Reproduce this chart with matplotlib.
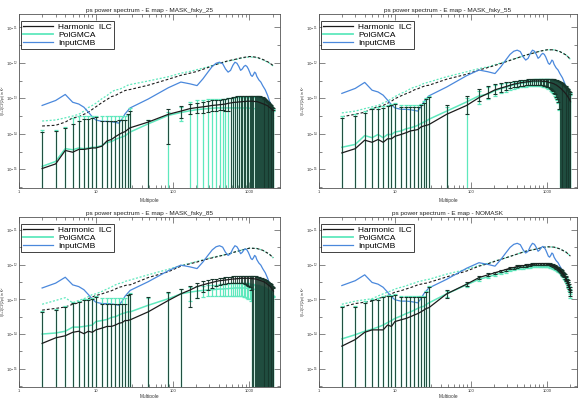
import numpy as np
import matplotlib
matplotlib.use("Agg")
import matplotlib.pyplot as plt
from matplotlib.lines import Line2D
from matplotlib.ticker import FixedLocator, NullFormatter

plt.rcParams['font.family'] = ['Liberation Sans', 'DejaVu Sans']

# ---- data (all spectra in log10 of l(l+1)Cl/2pi [K^2]) ----
ell = [2, 3, 4, 5, 6, 7, 8, 9, 10, 12, 14, 16, 18, 20, 22, 24, 26, 28] + list(range(48, 2049, 40))

dash_ell = [2, 3, 4, 5, 6, 7, 8, 9, 10, 12, 14, 16, 18, 20, 22, 24, 26, 28,
            48, 88, 128, 168, 208, 288, 408, 528, 648, 808, 1008, 1248, 1488, 1808, 2048]

cmb_ell = [2, 3, 4, 5, 6, 7, 8, 9, 10, 12, 14, 16, 18, 20, 22, 24, 26, 28] + list(range(48, 1249, 40)) + \
          [1328, 1408, 1488, 1608, 1728, 1848, 1968, 2048]
# full sky input, each masked panel sits lower by its sky fraction
cmb_full = [-12.60, -12.46, -12.29, -12.51, -12.56, -12.65, -12.79, -12.92, -13.01, -13.05, -13.05, -13.06,
            -13.08, -13.10, -12.98, -12.84, -12.75, -12.67,
            -12.42, -12.10, -11.94, -11.99, -12.04, -11.85, -11.66, -11.50, -11.41, -11.38, -11.42, -11.57,
            -11.66, -11.61, -11.47, -11.38, -11.41, -11.50, -11.61, -11.57, -11.50, -11.47, -11.50, -11.57,
            -11.66, -11.75, -11.78, -11.73, -11.66, -11.69, -11.78,
            -11.88, -11.94, -12.04, -12.16, -12.32, -12.51, -12.63, -12.70]
cmb_shift = [-0.60, -0.26, -0.07, 0.0]

titles = ['ps power spectrum - E map - MASK_fsky_25', 'ps power spectrum - E map - MASK_fsky_55',
          'ps power spectrum - E map - MASK_fsky_85', 'ps power spectrum - E map - NOMASK']

# MASK_fsky_25
ilc_25 = [-14.98, -14.85, -14.47, -14.52, -14.44, -14.44, -14.42, -14.40, -14.40, -14.35, -14.20, -14.16, -14.08, -14.02, -13.97, -13.94, -13.88, -13.83,
          -13.67, -13.45, -13.36, -13.29, -13.26, -13.24, -13.22, -13.20, -13.19, -13.18, -13.17, -13.16, -13.14, -13.13, -13.12, -13.11, -13.11,
          -13.10, -13.10, -13.09, -13.09, -13.09, -13.08, -13.08, -13.08, -13.08, -13.08, -13.08, -13.09, -13.09, -13.09, -13.10, -13.11, -13.12,
          -13.13, -13.14, -13.15, -13.16, -13.17, -13.18, -13.19, -13.20, -13.21, -13.23, -13.25, -13.26, -13.28, -13.30, -13.31, -13.33, -13.35]
ilc_25_top = [-13.95, -13.92, -13.83, -13.71, -13.64, -13.59, -13.57, -13.55, -13.52, -13.64, -13.64, -13.64, -13.63, -13.62, -13.61, -13.60, -13.45, -13.35,
              -13.62, -13.30, -13.22, -13.15, -13.12, -13.10, -13.08, -13.06, -13.05, -13.04, -13.03, -13.02, -13.00, -12.99, -12.97, -12.95, -12.93,
              -12.92, -12.92, -12.92, -12.92, -12.92, -12.92, -12.92, -12.92, -12.92, -12.92, -12.92, -12.92, -12.92, -12.92, -12.93, -12.93, -12.94,
              -12.95, -12.96, -12.97, -12.99, -13.01, -13.03, -13.05, -13.07, -13.09, -13.11, -13.13, -13.16, -13.19, -13.22, -13.25, -13.28, -13.32]
ilc_25_bot = [-16] * 18 + [-16, -14.30, -13.55, -13.45, -13.42, -13.40, -13.38, -13.36, -13.35, -13.34, -13.34, -13.35, -13.36] + [-16] * 38
gmca_25 = [-14.92, -14.78, -14.42, -14.45, -14.40, -14.42, -14.40, -14.38, -14.38, -14.33, -14.24, -14.22, -14.16, -14.12, -14.09, -14.06, -14.00, -13.95,
           -13.72, -13.48, -13.40, -13.35, -13.32, -13.30, -13.29, -13.28, -13.27, -13.27, -13.27, -13.27, -13.27, -13.27, -13.27, -13.27, -13.27,
           -13.27, -13.27, -13.27, -13.27, -13.27, -13.27, -13.27, -13.28, -13.28, -13.28, -13.29, -13.29, -13.30, -13.30, -13.31, -13.32, -13.33,
           -13.34, -13.35, -13.36, -13.37, -13.38, -13.39, -13.40, -13.41, -13.42, -13.44, -13.46, -13.47, -13.49, -13.51, -13.52, -13.54, -13.56]
gmca_25_top = [-13.90, -13.88, -13.80, -13.55, -13.50, -13.50, -13.50, -13.50, -13.50, -13.50, -13.50, -13.50, -13.50, -13.50, -13.50, -13.50, -13.48, -13.26,
               -13.60, -13.38, -13.25, -13.10, -13.05, -13.04, -13.03, -13.03, -13.03, -13.03, -13.02, -13.01, -13.00, -12.99, -12.98, -12.97, -12.96,
               -12.95, -12.95, -12.95, -12.95, -12.95, -12.95, -12.95, -12.95, -12.95, -12.95, -12.95, -12.95, -12.95, -12.95, -12.96, -12.96, -12.97,
               -12.98, -12.99, -13.00, -13.02, -13.04, -13.06, -13.08, -13.10, -13.12, -13.14, -13.16, -13.19, -13.22, -13.25, -13.28, -13.31, -13.35]
gmca_25_bot = [-16] * 18 + [-16, -16, -13.65] + [-16] * 48
dilc_25 = [-13.78, -13.76, -13.67, -13.55, -13.52, -13.45, -13.39, -13.31, -13.24, -13.12, -13.03, -12.95, -12.92, -12.86, -12.82, -12.78, -12.76, -12.75,
           -12.63, -12.46, -12.35, -12.29, -12.24, -12.13, -12.01, -11.94, -11.90, -11.85, -11.82, -11.84, -11.90, -11.99, -12.08]
dgmca_25 = [-13.64, -13.61, -13.55, -13.50, -13.45, -13.36, -13.26, -13.20, -13.14, -13.01, -12.92, -12.82, -12.76, -12.75, -12.71, -12.67, -12.63, -12.61,
            -12.51, -12.39, -12.29, -12.24, -12.19, -12.11, -12.01, -11.95, -11.91, -11.86, -11.83, -11.85, -11.91, -12.00, -12.09]

# MASK_fsky_55
ilc_55 = [-14.54, -14.42, -14.18, -14.24, -14.16, -14.24, -14.14, -14.14, -14.07, -14.02, -13.97, -13.92, -13.90, -13.88, -13.81, -13.78, -13.76, -13.74,
          -13.45, -13.20, -12.98, -12.86, -12.76, -12.71, -12.67, -12.63, -12.60, -12.58, -12.56, -12.55, -12.54, -12.53, -12.52, -12.51, -12.51,
          -12.51, -12.51, -12.51, -12.51, -12.52, -12.52, -12.52, -12.53, -12.54, -12.55, -12.56, -12.57, -12.58, -12.59, -12.61, -12.62, -12.64,
          -12.66, -12.68, -12.70, -12.72, -12.74, -12.77, -12.79, -12.81, -12.84, -12.86, -12.89, -12.92, -12.95, -12.98, -13.01, -13.05, -13.09]
ilc_55_top = [-13.55, -13.50, -13.41, -13.31, -13.29, -13.26, -13.22, -13.20, -13.17, -13.24, -13.24, -13.24, -13.24, -13.24, -13.20, -13.12, -13.03, -12.97,
              -13.20, -12.93, -12.73, -12.66, -12.60, -12.57, -12.55, -12.53, -12.51, -12.50, -12.49, -12.48, -12.47, -12.46, -12.45, -12.45, -12.44,
              -12.44, -12.44, -12.44, -12.44, -12.44, -12.44, -12.44, -12.44, -12.44, -12.44, -12.45, -12.45, -12.46, -12.46, -12.47, -12.48, -12.49,
              -12.50, -12.51, -12.53, -12.54, -12.56, -12.58, -12.60, -12.62, -12.64, -12.66, -12.68, -12.71, -12.73, -12.76, -12.79, -12.82, -12.89]
ilc_55_bot = [-16] * 18 + [-16, -13.45, -13.08, -12.98, -12.88, -12.82, -12.77, -12.72, -12.69, -12.67, -12.65, -12.64, -12.63, -12.62, -12.61,
                           -12.61, -12.61, -12.61, -12.61, -12.62, -12.62, -12.63, -12.64, -12.65, -12.67, -12.69, -12.71, -12.74, -12.77, -12.80,
                           -12.84, -12.89, -12.95, -13.02, -13.10, -13.30] + [-16] * 15
gmca_55 = [-14.38, -14.30, -14.05, -14.11, -14.02, -14.11, -14.02, -14.02, -13.95, -13.92, -13.86, -13.83, -13.80, -13.76, -13.71, -13.67, -13.64, -13.59,
           -13.36, -13.10, -12.93, -12.88, -12.78, -12.73, -12.69, -12.65, -12.62, -12.60, -12.58, -12.57, -12.56, -12.55, -12.54, -12.53, -12.53,
           -12.53, -12.53, -12.53, -12.53, -12.54, -12.54, -12.54, -12.55, -12.56, -12.57, -12.58, -12.59, -12.60, -12.61, -12.63, -12.64, -12.66,
           -12.68, -12.70, -12.72, -12.74, -12.76, -12.79, -12.81, -12.83, -12.86, -12.88, -12.91, -12.94, -12.97, -13.00, -13.03, -13.07, -13.11]
gmca_55_top = [-13.50, -13.45, -13.36, -13.27, -13.25, -13.22, -13.18, -13.16, -13.13, -13.20, -13.20, -13.20, -13.20, -13.20, -13.16, -13.08, -13.00, -12.94,
               -13.25, -13.00, -12.78, -12.68, -12.62, -12.59, -12.57, -12.55, -12.53, -12.52, -12.51, -12.50, -12.49, -12.48, -12.47, -12.47, -12.46,
               -12.46, -12.46, -12.46, -12.46, -12.46, -12.46, -12.46, -12.46, -12.46, -12.46, -12.47, -12.47, -12.48, -12.48, -12.49, -12.50, -12.51,
               -12.52, -12.53, -12.55, -12.56, -12.58, -12.60, -12.62, -12.64, -12.66, -12.68, -12.70, -12.73, -12.75, -12.78, -12.81, -12.84, -12.91]
gmca_55_bot = [-16] * 18 + [-16, -16, -13.15, -13.02, -12.92, -12.86, -12.81, -12.76, -12.73, -12.71, -12.69, -12.68, -12.67, -12.66, -12.65,
                            -12.65, -12.65, -12.65, -12.65, -12.66, -12.66, -12.67, -12.68, -12.69, -12.71, -12.73, -12.75, -12.78, -12.81, -12.84,
                            -12.88, -12.93, -12.99, -13.06, -13.14, -13.34] + [-16] * 15
dilc_55 = [-13.52, -13.45, -13.39, -13.29, -13.24, -13.20, -13.14, -13.08, -13.01, -12.93, -12.87, -12.82, -12.76, -12.73, -12.69, -12.66, -12.64, -12.63,
           -12.46, -12.32, -12.20, -12.13, -12.07, -11.97, -11.86, -11.78, -11.73, -11.67, -11.63, -11.63, -11.68, -11.78, -11.90]
dgmca_55 = [-13.41, -13.36, -13.29, -13.24, -13.20, -13.13, -13.08, -13.01, -12.95, -12.86, -12.80, -12.73, -12.68, -12.66, -12.62, -12.58, -12.56, -12.54,
            -12.39, -12.25, -12.16, -12.11, -12.05, -11.96, -11.86, -11.78, -11.73, -11.67, -11.63, -11.63, -11.68, -11.78, -11.90]

# MASK_fsky_85
ilc_85 = [-14.27, -14.11, -14.05, -13.95, -13.92, -13.99, -13.92, -13.95, -13.88, -13.83, -13.78, -13.78, -13.74, -13.69, -13.67, -13.61, -13.61, -13.59,
          -13.36, -13.03, -12.84, -12.73, -12.63, -12.58, -12.54, -12.51, -12.48, -12.46, -12.45, -12.44, -12.43, -12.42, -12.41, -12.41, -12.40,
          -12.40, -12.39, -12.39, -12.39, -12.39, -12.39, -12.39, -12.39, -12.40, -12.40, -12.40, -12.41, -12.41, -12.42, -12.43, -12.44, -12.45,
          -12.46, -12.47, -12.48, -12.49, -12.50, -12.52, -12.53, -12.55, -12.57, -12.59, -12.60, -12.62, -12.64, -12.67, -12.70, -12.73, -12.76]
ilc_85_top = [-13.36, -13.31, -13.22, -13.10, -13.08, -13.03, -13.01, -12.98, -12.93, -13.14, -13.14, -13.14, -13.14, -13.14, -13.14, -13.14, -12.88, -12.84,
              -12.93, -12.79, -12.70, -12.60, -12.52, -12.48, -12.45, -12.42, -12.40, -12.38, -12.37, -12.36, -12.35, -12.34, -12.33, -12.33, -12.32,
              -12.32, -12.31, -12.31, -12.31, -12.31, -12.31, -12.31, -12.31, -12.32, -12.32, -12.32, -12.33, -12.33, -12.34, -12.35, -12.36, -12.37,
              -12.38, -12.39, -12.40, -12.41, -12.42, -12.44, -12.45, -12.47, -12.49, -12.51, -12.52, -12.54, -12.56, -12.59, -12.62, -12.65, -12.68]
ilc_85_bot = [-16] * 18 + [-16, -16, -16, -13.22, -12.95, -12.80, -12.72, -12.66, -12.61, -12.58, -12.56, -12.55, -12.54, -12.53, -12.52,
                           -12.52, -12.52, -12.52, -12.52, -12.53, -12.54, -12.56, -12.58, -12.61, -12.65, -12.72] + [-16] * 25
gmca_85 = [-14.00, -13.97, -13.92, -13.80, -13.80, -13.78, -13.76, -13.74, -13.64, -13.61, -13.58, -13.52, -13.50, -13.45, -13.41, -13.39, -13.36, -13.36,
           -13.17, -12.98, -12.84, -12.79, -12.76, -12.74, -12.73, -12.72, -12.71, -12.70, -12.70, -12.69, -12.69, -12.68, -12.68, -12.67, -12.67,
           -12.67, -12.67, -12.67, -12.67, -12.68, -12.68, -12.68, -12.69, -12.69, -12.70, -12.70, -12.71, -12.71, -12.72, -12.73, -12.74, -12.75,
           -12.76, -12.77, -12.78, -12.79, -12.80, -12.82, -12.83, -12.85, -12.87, -12.89, -12.90, -12.92, -12.94, -12.97, -13.00, -13.03, -13.06]
gmca_85_top = [-13.33, -13.28, -13.19, -13.07, -13.05, -13.00, -12.98, -12.95, -12.90, -12.95, -12.95, -12.95, -12.95, -12.95, -12.95, -12.95, -12.86, -12.82,
               -12.95, -12.82, -12.70, -12.65, -12.62, -12.60, -12.59, -12.58, -12.57, -12.56, -12.56, -12.55, -12.55, -12.54, -12.54, -12.53, -12.53,
               -12.53, -12.53, -12.53, -12.53, -12.54, -12.54, -12.54, -12.55, -12.55, -12.56, -12.56, -12.57, -12.57, -12.58, -12.59, -12.60, -12.61,
               -12.62, -12.63, -12.64, -12.65, -12.66, -12.68, -12.69, -12.71, -12.73, -12.75, -12.76, -12.78, -12.80, -12.83, -12.86, -12.89, -12.92]
gmca_85_bot = [-16] * 18 + [-16, -16, -16, -13.05, -12.95, -12.92, -12.90, -12.90, -12.90, -12.90, -12.90, -12.90, -12.90, -12.90, -12.90,
                            -12.90, -12.90, -12.90, -12.90, -12.90, -12.92, -12.94, -12.96, -12.98, -13.00, -13.05] + [-16] * 25
dilc_85 = [-13.31, -13.26, -13.22, -13.14, -13.10, -13.05, -12.98, -12.93, -12.89, -12.84, -12.79, -12.75, -12.70, -12.65, -12.63, -12.60, -12.58, -12.58,
           -12.37, -12.20, -12.04, -11.97, -11.92, -11.83, -11.75, -11.69, -11.63, -11.57, -11.52, -11.53, -11.58, -11.69, -11.80]
dgmca_85 = [-13.14, -13.03, -12.95, -13.10, -13.03, -12.98, -12.92, -12.86, -12.84, -12.77, -12.70, -12.64, -12.58, -12.54, -12.52, -12.48, -12.46, -12.44,
            -12.29, -12.13, -12.02, -11.96, -11.90, -11.82, -11.74, -11.69, -11.63, -11.57, -11.52, -11.53, -11.58, -11.69, -11.80]

# NOMASK
ilc_100 = [-14.35, -14.16, -13.95, -13.88, -13.88, -13.88, -13.74, -13.78, -13.64, -13.59, -13.55, -13.50, -13.45, -13.41, -13.36, -13.31, -13.26, -13.24,
           -12.84, -12.56, -12.37, -12.29, -12.23, -12.18, -12.14, -12.10, -12.08, -12.05, -12.04, -12.03, -12.02, -12.01, -12.00, -11.99, -11.98,
           -11.98, -11.97, -11.97, -11.97, -11.97, -11.97, -11.97, -11.98, -11.98, -11.99, -12.00, -12.01, -12.02, -12.04, -12.05, -12.07, -12.09,
           -12.11, -12.13, -12.16, -12.18, -12.21, -12.24, -12.27, -12.30, -12.34, -12.38, -12.42, -12.46, -12.51, -12.56, -12.62, -12.70, -12.80]
ilc_100_top = [-13.22, -13.22, -13.10, -13.03, -13.01, -12.93, -12.91, -12.89, -12.86, -12.93, -12.93, -12.93, -12.93, -12.93, -12.93, -12.93, -12.80, -12.65,
               -12.74, -12.51, -12.33, -12.25, -12.20, -12.15, -12.11, -12.07, -12.05, -12.02, -12.01, -12.00, -11.99, -11.98, -11.97, -11.96, -11.95,
               -11.95, -11.94, -11.94, -11.94, -11.94, -11.94, -11.94, -11.95, -11.95, -11.96, -11.97, -11.98, -11.99, -12.00, -12.01, -12.03, -12.05,
               -12.07, -12.09, -12.11, -12.13, -12.16, -12.19, -12.22, -12.25, -12.28, -12.32, -12.36, -12.40, -12.45, -12.50, -12.56, -12.63, -12.72]
ilc_100_bot = [-16] * 18 + [-12.96, -12.61, -12.41, -12.33, -12.26, -12.21, -12.17, -12.13, -12.11, -12.08, -12.07, -12.06, -12.05, -12.04, -12.03,
                            -12.02, -12.01, -12.01, -12.00, -12.00, -12.00, -12.00, -12.00, -12.00, -12.01, -12.01, -12.02, -12.03, -12.04, -12.05,
                            -12.07, -12.09, -12.11, -12.13, -12.15, -12.17, -12.20, -12.23, -12.26, -12.29, -12.32, -12.36, -12.40, -12.44, -12.48,
                            -12.53, -12.58, -12.64, -12.70, -12.78, -12.90]
gmca_100 = [-14.14, -14.02, -13.92, -13.86, -13.80, -13.74, -13.67, -13.61, -13.55, -13.48, -13.41, -13.36, -13.31, -13.26, -13.22, -13.20, -13.14, -13.10,
            -12.84, -12.58, -12.42, -12.35, -12.29, -12.24, -12.20, -12.16, -12.13, -12.10, -12.09, -12.08, -12.07, -12.06, -12.05, -12.04, -12.04,
            -12.03, -12.03, -12.03, -12.03, -12.03, -12.03, -12.03, -12.03, -12.04, -12.04, -12.05, -12.06, -12.07, -12.08, -12.10, -12.11, -12.13,
            -12.15, -12.17, -12.19, -12.22, -12.24, -12.27, -12.30, -12.33, -12.37, -12.40, -12.44, -12.48, -12.53, -12.58, -12.64, -12.72, -12.82]
gmca_100_top = [-13.18, -13.18, -13.06, -12.99, -12.97, -12.90, -12.88, -12.86, -12.83, -12.90, -12.90, -12.90, -12.90, -12.90, -12.90, -12.90, -12.77, -12.62,
                -12.76, -12.53, -12.38, -12.31, -12.26, -12.21, -12.17, -12.13, -12.10, -12.07, -12.06, -12.05, -12.04, -12.03, -12.02, -12.01, -12.01,
                -12.00, -12.00, -12.00, -12.00, -12.00, -12.00, -12.00, -12.00, -12.01, -12.01, -12.02, -12.03, -12.04, -12.05, -12.07, -12.08, -12.10,
                -12.12, -12.14, -12.16, -12.19, -12.21, -12.24, -12.27, -12.30, -12.34, -12.37, -12.41, -12.45, -12.50, -12.55, -12.61, -12.69, -12.79]
gmca_100_bot = [-16] * 18 + [-12.93, -12.63, -12.46, -12.39, -12.32, -12.27, -12.23, -12.19, -12.16, -12.13, -12.12, -12.11, -12.10, -12.09, -12.08,
                             -12.07, -12.07, -12.06, -12.06, -12.06, -12.06, -12.06, -12.06, -12.06, -12.07, -12.07, -12.08, -12.09, -12.10, -12.11,
                             -12.13, -12.14, -12.16, -12.18, -12.20, -12.22, -12.25, -12.27, -12.30, -12.33, -12.36, -12.40, -12.43, -12.47, -12.51,
                             -12.56, -12.61, -12.67, -12.75, -12.85, -12.95]
dilc_100 = [-13.22, -13.12, -13.08, -13.05, -12.98, -12.93, -12.89, -12.84, -12.79, -12.75, -12.70, -12.66, -12.62, -12.58, -12.56, -12.54, -12.53, -12.51,
            -12.35, -12.18, -12.04, -11.97, -11.90, -11.80, -11.69, -11.61, -11.57, -11.52, -11.48, -11.49, -11.54, -11.64, -11.75]
dgmca_100 = [-13.14, -13.05, -13.01, -12.98, -12.90, -12.84, -12.79, -12.75, -12.70, -12.65, -12.61, -12.56, -12.53, -12.49, -12.47, -12.45, -12.43, -12.42,
             -12.27, -12.13, -12.02, -11.96, -11.89, -11.80, -11.69, -11.61, -11.57, -11.52, -11.48, -11.49, -11.54, -11.64, -11.75]

panels = [
    (ilc_25, ilc_25_top, ilc_25_bot, gmca_25, gmca_25_top, gmca_25_bot, dilc_25, dgmca_25),
    (ilc_55, ilc_55_top, ilc_55_bot, gmca_55, gmca_55_top, gmca_55_bot, dilc_55, dgmca_55),
    (ilc_85, ilc_85_top, ilc_85_bot, gmca_85, gmca_85_top, gmca_85_bot, dilc_85, dgmca_85),
    (ilc_100, ilc_100_top, ilc_100_bot, gmca_100, gmca_100_top, gmca_100_bot, dilc_100, dgmca_100),
]

DARK = '#1c1c1c'
BAR = '#17362b'
AQUA = '#5fe8bd'
BLUE = '#4a88dc'
FRAME = '#555555'

fig = plt.figure(figsize=(5.85, 3.98), dpi=100)
boxes = [[0.0325, 0.5276, 0.4461, 0.4372], [0.5453, 0.5276, 0.4410, 0.4372],
         [0.0325, 0.0276, 0.4461, 0.4272], [0.5453, 0.0276, 0.4410, 0.4272]]
xlab_y = [-0.057, -0.057, -0.042, -0.042]
ylab_x = [-0.054, -0.055, -0.054, -0.055]


def p(a):
    return 10.0 ** np.asarray(a, dtype=float)


for k, (box, data) in enumerate(zip(boxes, panels)):
    ilc, ilc_top, ilc_bot, gmca, gmca_top, gmca_bot, dilc, dgmca = data
    ax = fig.add_axes(box)
    ax.set_xscale('log')
    ax.set_yscale('log')

    ax.plot(dash_ell, p(dgmca), color=AQUA, ls=(0, (1.6, 1.4)), lw=0.9)
    ax.plot(dash_ell, p(dilc), color=DARK, ls=(0, (2.5, 1.8)), lw=0.8)
    ax.plot(cmb_ell, p(np.array(cmb_full) + cmb_shift[k]), color=BLUE, lw=0.9)

    # PolGMCA bars and line first, Harmonic ILC drawn over them
    ax.vlines(ell, p(gmca_bot), p(gmca_top), color=AQUA, lw=0.9)
    ax.plot(ell, p(gmca_top), ls='none', marker='_', ms=3, mew=0.9, color=AQUA)
    ax.plot(ell, p(gmca_bot), ls='none', marker='_', ms=3, mew=0.9, color=AQUA)
    ax.plot(ell, p(gmca), color=AQUA, lw=1.1)
    ax.vlines(ell, p(ilc_bot), p(ilc_top), color=BAR, lw=0.8, alpha=0.85)
    ax.plot(ell, p(ilc_top), ls='none', marker='_', ms=3, mew=0.8, color=BAR)
    ax.plot(ell, p(ilc_bot), ls='none', marker='_', ms=3, mew=0.8, color=BAR)
    ax.plot(ell, p(ilc), color=DARK, lw=0.9)

    ax.set_xlim(1, 2500)
    ax.set_ylim(10 ** -15.53, 10 ** -10.62)

    ax.xaxis.set_major_locator(FixedLocator([1, 10, 100, 1000]))
    ax.set_xticklabels(['1', '10', '100', '1000'])
    ax.xaxis.set_minor_locator(FixedLocator([m * 10 ** e for e in range(0, 4) for m in range(2, 10)]))
    ax.xaxis.set_minor_formatter(NullFormatter())
    ax.yaxis.set_major_locator(FixedLocator([1e-15, 1e-14, 1e-13, 1e-12, 1e-11]))
    ax.set_yticklabels(['$10^{-15}$', '$10^{-14}$', '$10^{-13}$', '$10^{-12}$', '$10^{-11}$'])
    ax.yaxis.set_minor_locator(FixedLocator([10 ** (e + 0.5) for e in range(-16, -10)]))
    ax.yaxis.set_minor_formatter(NullFormatter())
    ax.tick_params(which='both', direction='in', top=True, right=True, labelsize=3.0,
                   colors=FRAME, labelcolor='#333333', width=0.5, pad=1.5)
    ax.tick_params(axis='y', labelsize=2.8, pad=0.6)
    ax.tick_params(which='major', length=4)
    ax.tick_params(which='minor', length=2)
    for s in ax.spines.values():
        s.set_color(FRAME)
        s.set_linewidth(0.6)

    ax.set_title(titles[k], fontsize=4.6, pad=1.5, color='#222222')
    ax.set_xlabel('Multipole', fontsize=3.4, color='#333333')
    ax.xaxis.set_label_coords(0.5, xlab_y[k])
    ax.set_ylabel('l(l+1)Cl/(2pi) in K²', fontsize=2.6, color='#333333')
    ax.yaxis.set_label_coords(ylab_x[k], 0.5)

    handles = [Line2D([], [], color=DARK, lw=0.9), Line2D([], [], color=AQUA, lw=1.3),
               Line2D([], [], color=BLUE, lw=0.9)]
    leg = ax.legend(handles, ['Harmonic  ILC', 'PolGMCA', 'InputCMB'], loc='upper left',
                    bbox_to_anchor=(0.008, 0.96), fontsize=6, frameon=True, fancybox=False,
                    handlelength=3.6, handletextpad=0.6, labelspacing=0.05, borderpad=0.25,
                    borderaxespad=0.0)
    leg.get_frame().set_edgecolor('#111111')
    leg.get_frame().set_linewidth(0.7)

fig.savefig('out.png', dpi=100)
